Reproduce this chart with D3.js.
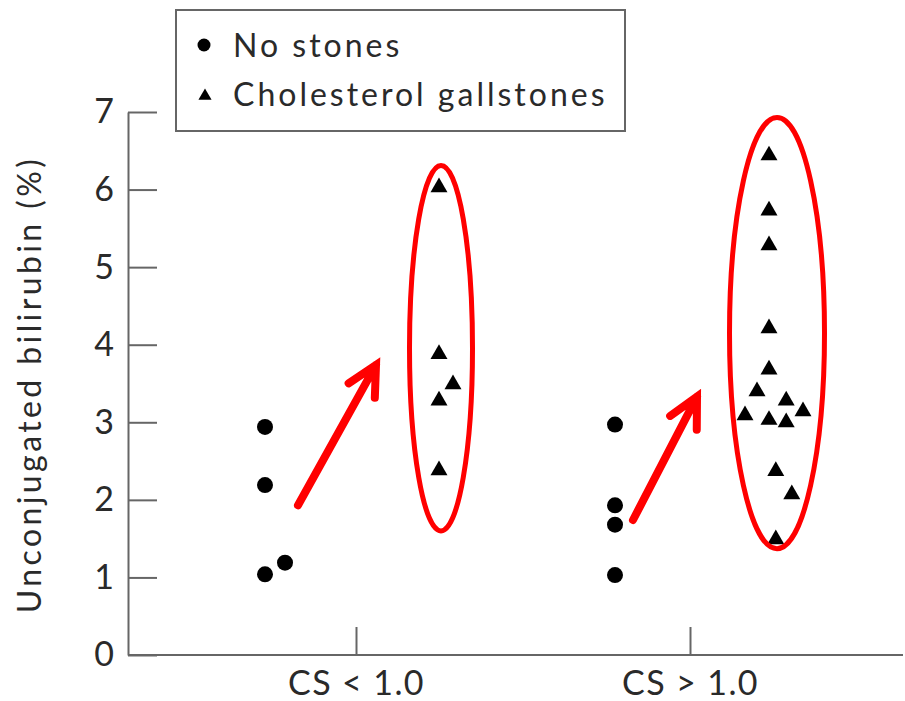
<!DOCTYPE html>
<html>
<head>
<meta charset="utf-8">
<script src="https://cdn.jsdelivr.net/npm/d3@7"></script>
<style>
  body { margin: 0; background: #fff; }
  svg { display: block; font-family: Lato, "Noto Sans", sans-serif; }
</style>
</head>
<body>
<svg id="chart" width="905" height="701"></svg>
<script>
const CATEGORIES = ["CS < 1.0", "CS > 1.0"];
const SERIES = ["No stones", "Cholesterol gallstones"];
const Y_TICKS = [0, 1, 2, 3, 4, 5, 6, 7];

// [category, value, jitter] - jitter in marker-width units
const NO_STONES = [
    ["CS < 1.0", 2.94, -1], ["CS < 1.0", 2.19, -1], ["CS < 1.0", 1.04, -1], ["CS < 1.0", 1.19, 1.5],
    ["CS > 1.0", 2.97, 1], ["CS > 1.0", 1.93, 1], ["CS > 1.0", 1.68, 1], ["CS > 1.0", 1.03, 1]
];
const GALLSTONES = [
    ["CS < 1.0", 6.03, 0.25], ["CS < 1.0", 3.88, 0.25], ["CS < 1.0", 3.49, 2], ["CS < 1.0", 3.28, 0.25], ["CS < 1.0", 2.38, 0.25],
    ["CS > 1.0", 6.44, -0.25], ["CS > 1.0", 5.73, -0.25], ["CS > 1.0", 5.28, -0.25], ["CS > 1.0", 4.21, -0.25],
    ["CS > 1.0", 3.68, -0.25], ["CS > 1.0", 3.40, -1.75], ["CS > 1.0", 3.28, 1.9], ["CS > 1.0", 3.09, -3.25],
    ["CS > 1.0", 3.03, -0.25], ["CS > 1.0", 3.00, 1.9], ["CS > 1.0", 3.14, 4], ["CS > 1.0", 2.37, 0.6],
    ["CS > 1.0", 2.07, 2.6], ["CS > 1.0", 1.49, 0.6]
];

// red annotations: ellipse around gallstone group, arrow pointing at it
const HIGHLIGHT = [
    { cat: "CS < 1.0", top: 6.31, bottom: 1.60 },
    { cat: "CS > 1.0", top: 6.93, bottom: 1.37 }
];
const ARROWS = [
    { cat: "CS < 1.0", from: 1.93, to: 3.74 },
    { cat: "CS > 1.0", from: 1.74, to: 3.33 }
];

const svg = d3.select("#chart");
const axisColor = "#666";
const textColor = "#2a2a2a";

const x = d3.scalePoint().domain(CATEGORIES).range([356, 690]);
const seriesOffset = d3.scaleOrdinal().domain(SERIES).range([-83, 81]);
const jitterUnit = 8;
const y = d3.scaleLinear().domain([0, 7]).range([655, 112]);

const px = (cat, series, j) => x(cat) + seriesOffset(series) + j * jitterUnit;

// y axis
const yAxis = svg.append("g")
    .attr("transform", "translate(128,0)")
    .call(d3.axisRight(y).tickValues(Y_TICKS).tickSize(29).tickSizeOuter(0).tickFormat(d3.format("d")));
yAxis.select(".domain").attr("stroke", axisColor).attr("stroke-width", 2);
yAxis.selectAll(".tick line").attr("stroke", axisColor).attr("stroke-width", 2);
yAxis.selectAll(".tick text")
    .attr("x", -14)
    .attr("text-anchor", "end")
    .attr("fill", textColor)
    .style("font-size", "34px")
    .style("font-family", "Lato, sans-serif");

// x axis
const xAxis = svg.append("g")
    .attr("transform", "translate(0,655)")
    .call(d3.axisTop(x).tickSize(28).tickSizeOuter(0));
xAxis.select(".domain").attr("d", "M128,0H903").attr("stroke", axisColor).attr("stroke-width", 2);
xAxis.selectAll(".tick line").attr("stroke", axisColor).attr("stroke-width", 2);
xAxis.selectAll(".tick text")
    .attr("y", 40)
    .attr("dy", 0)
    .attr("fill", textColor)
    .style("font-size", "34px")
    .style("letter-spacing", "1.4px")
    .style("font-family", "Lato, sans-serif");

// y label
svg.append("text")
    .attr("transform", `translate(41,${(156 + 613) / 2}) rotate(-90)`)
    .attr("text-anchor", "middle")
    .attr("fill", textColor)
    .style("font-size", "32px")
    .style("letter-spacing", "3.4px")
    .text("Unconjugated bilirubin (%)");

// points
svg.selectAll(".nostone")
    .data(NO_STONES)
    .enter()
    .append("circle")
    .attr("class", "nostone")
    .attr("cx", d => px(d[0], SERIES[0], d[2]))
    .attr("cy", d => y(d[1]))
    .attr("r", 8)
    .attr("fill", "#000");

const tri = d3.symbol().type(d3.symbolTriangle).size(125);
svg.selectAll(".stone")
    .data(GALLSTONES)
    .enter()
    .append("path")
    .attr("class", "stone")
    .attr("d", tri)
    .attr("transform", d => `translate(${px(d[0], SERIES[1], d[2])},${y(d[1])})`)
    .attr("fill", "#000");

// red ellipses
const ellipseRx = { "CS < 1.0": 31.5, "CS > 1.0": 47.5 };
const ellipseShift = { "CS < 1.0": 85, "CS > 1.0": 87 };
svg.selectAll(".hl")
    .data(HIGHLIGHT)
    .enter()
    .append("ellipse")
    .attr("class", "hl")
    .attr("cx", d => x(d.cat) + ellipseShift[d.cat])
    .attr("cy", d => (y(d.top) + y(d.bottom)) / 2)
    .attr("rx", d => ellipseRx[d.cat])
    .attr("ry", d => (y(d.bottom) - y(d.top)) / 2)
    .attr("fill", "none")
    .attr("stroke", "#ff0000")
    .attr("stroke-width", 5);

// red arrows
const arrowShift = { "CS < 1.0": [-58, 20], "CS > 1.0": [-57, 7] };
const headLen = 33, headAngle = 27 * Math.PI / 180;
ARROWS.forEach(a => {
    const x0 = x(a.cat) + arrowShift[a.cat][0], y0 = y(a.from);
    const x1 = x(a.cat) + arrowShift[a.cat][1], y1 = y(a.to);
    const back = Math.atan2(y0 - y1, x0 - x1);
    const path = d3.path();
    path.moveTo(x0, y0);
    path.lineTo(x1, y1);
    path.moveTo(x1 + headLen * Math.cos(back + headAngle), y1 + headLen * Math.sin(back + headAngle));
    path.lineTo(x1, y1);
    path.lineTo(x1 + headLen * Math.cos(back - headAngle), y1 + headLen * Math.sin(back - headAngle));
    svg.append("path")
        .attr("d", path.toString())
        .attr("fill", "none")
        .attr("stroke", "#ff0000")
        .attr("stroke-width", 8)
        .attr("stroke-linecap", "round")
        .attr("stroke-linejoin", "miter");
});

// legend
const legend = svg.append("g").attr("transform", "translate(176,10)");
legend.append("rect")
    .attr("width", 449)
    .attr("height", 121)
    .attr("fill", "#fff")
    .attr("stroke", axisColor)
    .attr("stroke-width", 2);
legend.append("circle").attr("cx", 28).attr("cy", 35).attr("r", 6.5).attr("fill", "#000");
legend.append("path")
    .attr("d", d3.symbol().type(d3.symbolTriangle).size(75))
    .attr("transform", "translate(29,86)")
    .attr("fill", "#000");
legend.selectAll(".lt")
    .data(SERIES)
    .enter()
    .append("text")
    .attr("class", "lt")
    .attr("x", 57)
    .attr("y", (d, i) => 47 + i * 49)
    .attr("fill", textColor)
    .style("font-size", "32px")
    .style("letter-spacing", "3px")
    .text(d => d);
</script>
</body>
</html>
